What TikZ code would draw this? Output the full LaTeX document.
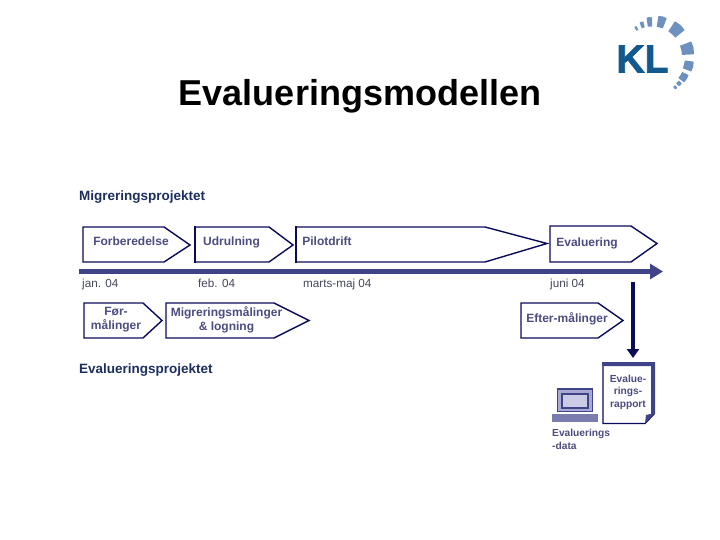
\documentclass[tikz,border=0pt]{standalone}
\usepackage{fontspec}
\setmainfont{Liberation Sans}
\newfontfamily\logofont[FakeBold=2]{Liberation Sans Bold}
\usetikzlibrary{arrows.meta}
\definecolor{navy}{HTML}{0B0B5C}
\definecolor{bar}{HTML}{3F4488}
\definecolor{label}{HTML}{4C4C80}
\definecolor{heading}{HTML}{1C2E5E}
\definecolor{date}{HTML}{44465A}
\definecolor{lilac}{HTML}{A9A9D6}
\definecolor{logodark}{HTML}{125A8E}
\definecolor{logolight}{HTML}{6D90BE}
\begin{document}
\begin{tikzpicture}[x=1pt,y=-1pt,
  phase/.style={draw=navy,fill=white,line width=1.4pt,line join=miter},
  phaseedge/.style={draw=navy,line width=2.6pt},
  phasetext/.style={text=label,font=\fontsize{12}{14}\selectfont\bfseries,align=center,inner sep=0pt},
  heading/.style={text=heading,font=\fontsize{13.5}{16}\selectfont\bfseries,anchor=west,inner sep=0pt},
  datetext/.style={text=date,font=\fontsize{11.7}{14}\selectfont,anchor=base west,inner sep=0pt},
  smalltext/.style={text=label,font=\fontsize{10.2}{12.5}\selectfont\bfseries,inner sep=0pt}
]
\useasboundingbox (0,0) rectangle (720,540);
\node[font=\fontsize{36}{43}\selectfont\bfseries,inner sep=0pt,anchor=base] (title) at (360,106) {Evalueringsmodellen};

% logo
\node[text=logodark,font=\logofont\fontsize{39}{39}\selectfont,inner sep=0pt] (logo) at (642.5,59) {KL};
\foreach \a/\w/\r/\t in {-119/2/30/4,-107/3/30/6,-94/4/30/9,-75/6/30/11,-48/9/30/12,-12/9/30/12,14/7/33/9,33/6/34/7,45/3/36/4,53/2/37/3}{
  \fill[logolight] (652,56.5)+(\a-\w:\r) -- +(\a:\r) -- +(\a+\w:\r)
    -- +(\a+\w:\r+\t) -- +(\a:\r+\t+.5) -- +(\a-\w:\r+\t) -- cycle;
}

\node[heading] (migr) at (79,197) {Migreringsprojektet};
\node[heading] (eval) at (79,370) {Evalueringsprojektet};

% top row
\draw[phase] (83,227) -- (164,227) -- (190,245) -- (164,262) -- (83,262) -- cycle;
\node[phasetext,anchor=base] (forb) at (131,245.5) {Forberedelse};
\draw[phase] (195,227) -- (269,227) -- (293,245) -- (269,262) -- (195,262) -- cycle;
\draw[phaseedge] (195,226.5) -- (195,262.5);
\node[phasetext,anchor=base] (udrul) at (231.5,245.5) {Udrulning};
\draw[phase] (296,227) -- (485,227) -- (547,243.5) -- (485,262) -- (296,262) -- cycle;
\draw[phaseedge] (296,226.5) -- (296,262.5);
\node[phasetext,anchor=base] (pilot) at (327,245.5) {Pilotdrift};
\draw[phase] (550,226) -- (631,226) -- (657,243.5) -- (631,262) -- (550,262) -- cycle;
\node[phasetext,anchor=base] (evalu) at (587,246) {Evaluering};

% time line
\coordinate (tstart) at (79,271.5);
\coordinate (tend) at (663,271.5);
\draw[bar,line width=5pt,-{Triangle[length=13pt,width=15pt]}] (tstart) -- (tend);
\node[datetext] (jan) at (82,287) {jan. 04};
\node[datetext] (feb) at (198,287) {feb. 04};
\node[datetext] (marts) at (303,287) {marts-maj 04};
\node[datetext] (juni) at (550,287) {juni 04};

% bottom row
\draw[phase] (84,303) -- (143,303) -- (162,320.5) -- (143,338) -- (84,338) -- cycle;
\node[phasetext] (foer) at (116,320) {Før-\\målinger};
\draw[phase] (166,303) -- (274,303) -- (309,320.5) -- (274,338) -- (166,338) -- cycle;
\node[phasetext] (maal) at (226.5,320) {Migreringsmålinger\\\& logning};
\draw[phase] (521,303) -- (598,303) -- (623,320.5) -- (598,338) -- (521,338) -- cycle;
\node[phasetext,anchor=base] (efter) at (567,322) {Efter-målinger};

% report
\draw[fill=white,draw=navy,line width=1.4pt] (603,364) -- (654,364) -- (654,414) -- (645,423.5) -- (603,423.5) -- cycle;
\fill[bar] (602,362) rectangle (655,366) (651,362) rectangle (655,414);
\fill[bar] (645,423.5) -- (655,413) -- (646,415) -- cycle;
\node[smalltext,align=center] (report) at (628,392) {Evalue-\\rings-\\rapport};
\coordinate (dstart) at (633,282);
\coordinate (dend) at (633,358);
\draw[navy,line width=3.5pt,-{Triangle[length=9pt,width=12pt]}] (dstart) -- (dend);

% computer
\draw[fill=lilac,draw=bar,line width=1.5pt] (557.5,389) rectangle (592.5,411.5);
\draw[fill=lilac!60,draw=bar,line width=2pt] (561.5,393.5) rectangle (587.5,407.5);
\fill[bar!70] (552,414) rectangle (598,422);
\node[smalltext,anchor=west,align=left] (data) at (552,439.5) {Evaluerings\\-data};
\end{tikzpicture}
\end{document}
